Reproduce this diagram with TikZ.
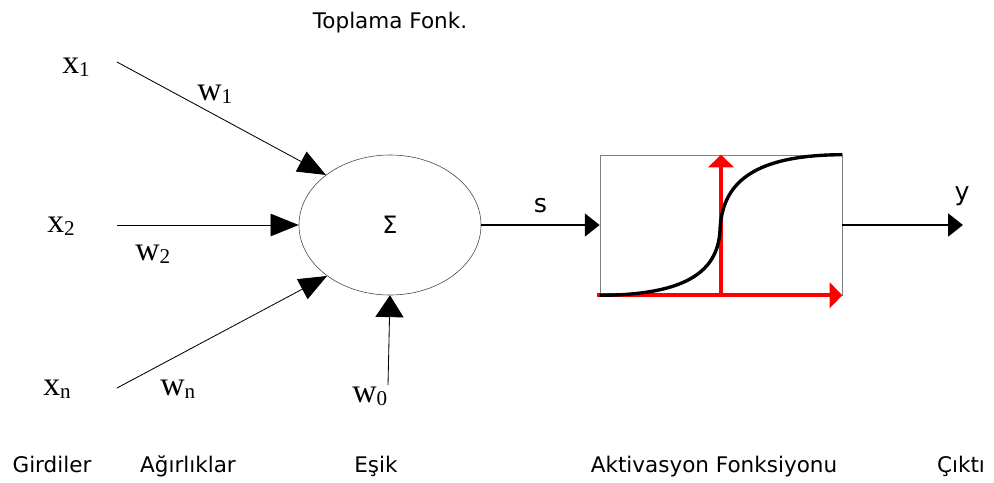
\documentclass[tikz,border=0pt]{standalone}
\usepackage{fontspec}
\setmainfont{DejaVu Sans}
\newfontfamily\timesfont{Liberation Serif}
\usetikzlibrary{arrows.meta, shapes.geometric, positioning}
\newcommand{\varsub}[2]{#1\raisebox{-2.5pt}{\fontsize{15}{15}\selectfont #2}}

\begin{document}
\begin{tikzpicture}[
    x=0.025cm, y=-0.025cm,
    var/.style={inner sep=0pt, anchor=base west, font=\timesfont\fontsize{24}{26}\selectfont},
    caption/.style={inner sep=0pt, anchor=base, font=\fontsize{15.3}{17}\selectfont},
    sumnode/.style={draw=black!75, ellipse, minimum width=4.55cm, minimum height=3.5cm, inner sep=0pt, font=\fontsize{17}{19}\selectfont},
    actbox/.style={draw=black!50, rectangle, minimum width=6.05cm, minimum height=3.5cm, inner sep=0pt},
    inarrow/.style={draw=black, line width=0.6pt, -{Triangle[length=20pt, width=16pt]}},
    flow/.style={line width=2.1pt, -{Triangle[length=10.5pt, width=16pt]}},
    redaxis/.style={red, line width=2.6pt, -{Triangle[length=9pt, width=18pt]}}
]
\useasboundingbox (0,0) rectangle (994,482);

% Nodes
\node[sumnode] (sum) at (390,225) {Σ};
\node[actbox] (act) at (721,225) {};
\node[caption] (topl) at (390,28) {Toplama Fonk.};

% Inputs and weights
\node[var] (x1) at (62,73) {\varsub{x}{1}};
\node[var] (x2) at (47,232) {\varsub{x}{2}};
\node[var] (xn) at (43,395) {\varsub{x}{n}};
\node[var] (w1) at (197,100) {\varsub{w}{1}};
\node[var] (w2) at (135,260) {\varsub{w}{2}};
\node[var] (wn) at (160,395) {\varsub{w}{n}};
\node[var] (w0) at (352,402) {\varsub{w}{0}};

\coordinate (in1) at (117,62);
\coordinate (in2) at (117,225);
\coordinate (inn) at (117,388);
\coordinate (bias) at (388,385);
\coordinate (out) at (963,225);

% Edges
\draw[inarrow] (in1) -- (sum.142);
\draw[inarrow] (in2) -- (sum.west);
\draw[inarrow] (inn) -- (sum.219);
\draw[draw=black, line width=0.6pt, -{Triangle[length=15.5pt, width=20pt]}] (bias) -- (sum.south);
\draw[flow] (sum.east) -- node[above=4pt, font=\fontsize{18}{20}\selectfont] (s) {s} (act.west);
\draw[flow] (act.east) -- (out);
\node[anchor=base, inner sep=0pt, font=\fontsize{18}{20}\selectfont] (y) at (962,200) {y};

% Activation curve
\draw[redaxis] (act.south) -- (act.north);
\draw[redaxis] ([xshift=-2]act.south west) -- (act.south east);
\draw[line width=2.4pt] (act.south west) .. controls (680,295) and (718,275) .. (720,230)
    .. controls (722,185) and (750,155) .. (act.north east);

% Captions
\node[caption] (gird) at (52,472) {Girdiler};
\node[caption] (agir) at (188,472) {Ağırlıklar};
\node[caption] (esik) at (376,472) {Eşik};
\node[caption] (aktv) at (714,472) {Aktivasyon Fonksiyonu};
\node[caption] (cikt) at (961,472) {Çıktı};
\end{tikzpicture}
\end{document}
